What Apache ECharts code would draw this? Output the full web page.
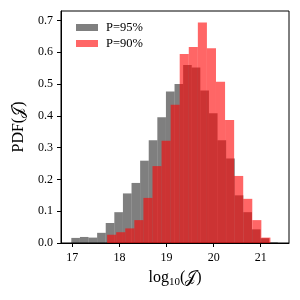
<!DOCTYPE html>
<html><head><meta charset="utf-8">
<script src="https://cdn.jsdelivr.net/npm/echarts@6/dist/echarts.min.js"></script>
<style>html,body{margin:0;padding:0;background:#fff}#c{width:300px;height:300px}</style>
</head><body><div id="c"></div>
<script>
// Grey histogram (P=95%)
var greyStart = 16.979;
var greyWidth = 0.1826;
var greyValues = [0.016,0.019,0.017,0.032,0.063,0.097,0.156,0.189,0.259,0.323,0.396,0.477,0.500,0.560,0.552,0.480,0.408,0.323,0.266,0.150,0.097,0.043,0.015,0.002];
// Red histogram (P=90%)
var redStart = 17.739;
var redWidth = 0.1926;
var redValues = [0.026,0.034,0.046,0.072,0.142,0.242,0.322,0.435,0.595,0.617,0.694,0.613,0.507,0.387,0.211,0.139,0.072,0.017];
var xTicks = [17,18,19,20,21];
var yTicks = [0,0.1,0.2,0.3,0.4,0.5,0.6,0.7];
var seriesNames = ['P=95%','P=90%'];

function bins(start, width, vals){
  return vals.map(function(v,i){ return [start + i*width, start + (i+1)*width, v]; });
}
function renderBar(params, api){
  var p0 = api.coord([api.value(0), api.value(2)]);
  var p1 = api.coord([api.value(1), 0]);
  return {type:'rect', shape:{x:p0[0], y:p0[1], width:p1[0]-p0[0], height:p1[1]-p0[1]},
    style:{fill: api.visual('color')}};
}
var FONT = 'Liberation Serif';
var chart = echarts.init(document.getElementById('c'), null, {renderer:'canvas'});
chart.setOption({
  animation:false,
  textStyle:{fontFamily:FONT},
  grid:{left:61, right:11, top:11, bottom:57, show:true, borderColor:'#000', borderWidth:1, backgroundColor:'transparent'},
  legend:{
    orient:'vertical', left:71, top:16, itemWidth:22, itemHeight:7, itemGap:3,
    icon:'rect',
    textStyle:{fontFamily:FONT, fontSize:12.5, color:'#000', padding:[0,0,0,3]},
    data:seriesNames
  },
  xAxis:{
    type:'value', min:16.76, max:21.6,
    axisLine:{show:true, lineStyle:{color:'#000', width:1}},
    axisTick:{show:true, inside:false, length:4, lineStyle:{color:'#000'}, customValues:xTicks},
    axisLabel:{color:'#000', fontFamily:FONT, fontSize:12, margin:9, customValues:xTicks,
      formatter:function(v){return String(v);}},
    splitLine:{show:false},
    name:'{a|log}{s|10}{a|(𝒥)}', nameLocation:'middle', nameGap:25,
    nameTextStyle:{rich:{a:{fontFamily:FONT, fontSize:16, color:'#000'}, s:{fontFamily:FONT, fontSize:11, color:'#000', padding:[9,0,0,0]}}}
  },
  yAxis:{
    type:'value', min:0, max:0.73,
    axisLine:{show:true, lineStyle:{color:'#000', width:1}},
    axisTick:{show:true, inside:false, length:4, lineStyle:{color:'#000'}, customValues:yTicks},
    axisLabel:{color:'#000', fontFamily:FONT, fontSize:12, margin:8, customValues:yTicks,
      formatter:function(v){return v.toFixed(1);}},
    splitLine:{show:false},
    name:'PDF(𝒥)', nameLocation:'middle', nameGap:31, nameRotate:90,
    nameTextStyle:{fontFamily:FONT, fontSize:16, color:'#000'}
  },
  series:[
    {name:seriesNames[0], type:'custom', renderItem:renderBar, itemStyle:{color:'rgba(0,0,0,0.5)'},
     encode:{x:[0,1], y:2}, data:bins(greyStart, greyWidth, greyValues)},
    {name:seriesNames[1], type:'custom', renderItem:renderBar, itemStyle:{color:'rgba(255,0,0,0.6)'},
     encode:{x:[0,1], y:2}, data:bins(redStart, redWidth, redValues)}
  ]
});
</script></body></html>
